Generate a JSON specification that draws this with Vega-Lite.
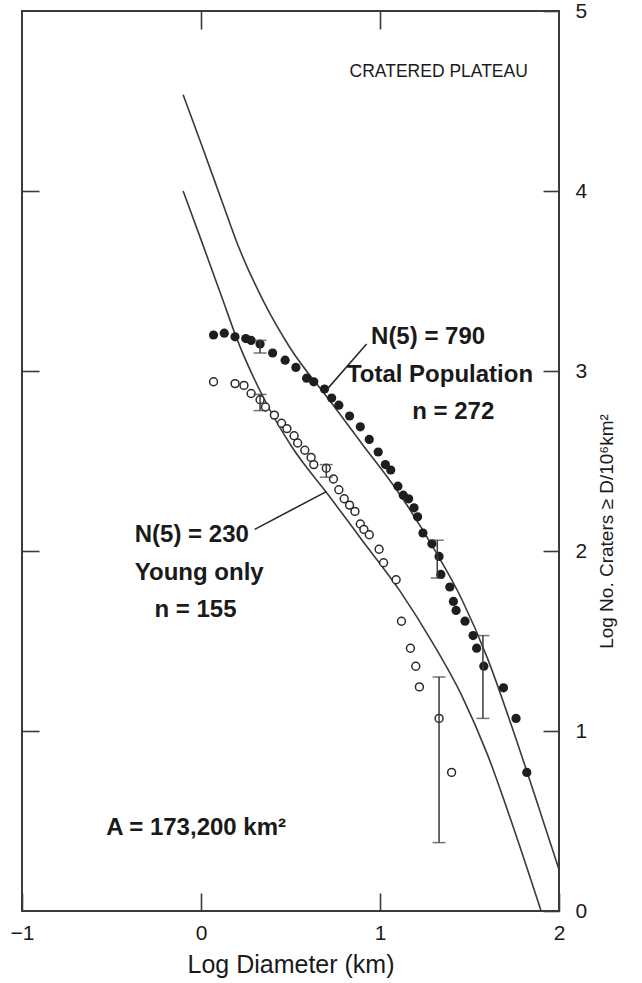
{
  "$schema": "https://vega.github.io/schema/vega-lite/v6.json",
  "width": 537,
  "height": 900,
  "autosize": "none",
  "padding": {"left": 22, "top": 11, "right": 83, "bottom": 72},
  "background": "white",
  "config": {
    "view": {"stroke": "#3a3a3a", "strokeWidth": 2},
    "axis": {
      "domain": false,
      "grid": false,
      "tickColor": "#3a3a3a",
      "tickWidth": 1.6,
      "labelFont": "Liberation Sans",
      "labelFontSize": 21,
      "labelColor": "#1a1a1a",
      "titleFont": "Liberation Sans",
      "titleFontWeight": "normal",
      "titleColor": "#1a1a1a"
    }
  },
  "datasets": {
    "curves": [
      {"curve": "upper", "x": -0.10, "y": 4.535},
      {"curve": "upper", "x": 0.0, "y": 4.265},
      {"curve": "upper", "x": 0.12, "y": 3.935},
      {"curve": "upper", "x": 0.2, "y": 3.715},
      {"curve": "upper", "x": 0.35, "y": 3.385},
      {"curve": "upper", "x": 0.5, "y": 3.125},
      {"curve": "upper", "x": 0.72, "y": 2.835},
      {"curve": "upper", "x": 0.9, "y": 2.595},
      {"curve": "upper", "x": 1.11, "y": 2.315},
      {"curve": "upper", "x": 1.3, "y": 2.015},
      {"curve": "upper", "x": 1.46, "y": 1.725},
      {"curve": "upper", "x": 1.6, "y": 1.405},
      {"curve": "upper", "x": 1.75, "y": 0.985},
      {"curve": "upper", "x": 1.9, "y": 0.535},
      {"curve": "upper", "x": 2.0, "y": 0.23},
      {"curve": "lower", "x": -0.10, "y": 4.0},
      {"curve": "lower", "x": 0.0, "y": 3.73},
      {"curve": "lower", "x": 0.12, "y": 3.40},
      {"curve": "lower", "x": 0.2, "y": 3.18},
      {"curve": "lower", "x": 0.35, "y": 2.85},
      {"curve": "lower", "x": 0.5, "y": 2.59},
      {"curve": "lower", "x": 0.72, "y": 2.30},
      {"curve": "lower", "x": 0.9, "y": 2.06},
      {"curve": "lower", "x": 1.11, "y": 1.78},
      {"curve": "lower", "x": 1.3, "y": 1.48},
      {"curve": "lower", "x": 1.46, "y": 1.19},
      {"curve": "lower", "x": 1.6, "y": 0.87},
      {"curve": "lower", "x": 1.75, "y": 0.45},
      {"curve": "lower", "x": 1.9, "y": 0.0}
    ],
    "total": [
      {"x": 0.07, "y": 3.20}, {"x": 0.13, "y": 3.21}, {"x": 0.19, "y": 3.19},
      {"x": 0.25, "y": 3.18}, {"x": 0.28, "y": 3.17}, {"x": 0.33, "y": 3.15},
      {"x": 0.40, "y": 3.10}, {"x": 0.47, "y": 3.06}, {"x": 0.53, "y": 3.02},
      {"x": 0.59, "y": 2.96}, {"x": 0.63, "y": 2.94}, {"x": 0.69, "y": 2.90},
      {"x": 0.73, "y": 2.85}, {"x": 0.77, "y": 2.81}, {"x": 0.83, "y": 2.75},
      {"x": 0.89, "y": 2.69}, {"x": 0.94, "y": 2.62}, {"x": 0.99, "y": 2.55},
      {"x": 1.03, "y": 2.48}, {"x": 1.06, "y": 2.45}, {"x": 1.10, "y": 2.36},
      {"x": 1.13, "y": 2.31}, {"x": 1.16, "y": 2.29}, {"x": 1.19, "y": 2.24},
      {"x": 1.21, "y": 2.19}, {"x": 1.24, "y": 2.10}, {"x": 1.29, "y": 2.04},
      {"x": 1.33, "y": 1.97}, {"x": 1.34, "y": 1.87}, {"x": 1.39, "y": 1.80},
      {"x": 1.41, "y": 1.72}, {"x": 1.425, "y": 1.67}, {"x": 1.475, "y": 1.61},
      {"x": 1.52, "y": 1.53}, {"x": 1.54, "y": 1.46}, {"x": 1.58, "y": 1.36},
      {"x": 1.69, "y": 1.24}, {"x": 1.76, "y": 1.07}, {"x": 1.82, "y": 0.77}
    ],
    "young": [
      {"x": 0.07, "y": 2.94}, {"x": 0.19, "y": 2.93}, {"x": 0.24, "y": 2.92},
      {"x": 0.28, "y": 2.875}, {"x": 0.33, "y": 2.84}, {"x": 0.36, "y": 2.80},
      {"x": 0.41, "y": 2.755}, {"x": 0.45, "y": 2.71}, {"x": 0.48, "y": 2.68},
      {"x": 0.52, "y": 2.64}, {"x": 0.54, "y": 2.60}, {"x": 0.58, "y": 2.56},
      {"x": 0.615, "y": 2.52}, {"x": 0.63, "y": 2.48}, {"x": 0.70, "y": 2.46},
      {"x": 0.74, "y": 2.40}, {"x": 0.77, "y": 2.34}, {"x": 0.80, "y": 2.29},
      {"x": 0.83, "y": 2.255}, {"x": 0.86, "y": 2.22}, {"x": 0.89, "y": 2.15},
      {"x": 0.91, "y": 2.12}, {"x": 0.94, "y": 2.09}, {"x": 0.995, "y": 2.01},
      {"x": 1.02, "y": 1.935}, {"x": 1.09, "y": 1.84}, {"x": 1.12, "y": 1.61},
      {"x": 1.17, "y": 1.46}, {"x": 1.20, "y": 1.36}, {"x": 1.22, "y": 1.245},
      {"x": 1.33, "y": 1.07}, {"x": 1.40, "y": 0.77}
    ],
    "errors": [
      {"group": "total", "x": 0.33, "lo": 3.10, "hi": 3.17},
      {"group": "young", "x": 0.33, "lo": 2.78, "hi": 2.87},
      {"group": "young", "x": 0.70, "lo": 2.41, "hi": 2.48},
      {"group": "total", "x": 1.32, "lo": 1.85, "hi": 2.06},
      {"group": "total", "x": 1.575, "lo": 1.07, "hi": 1.53},
      {"group": "young", "x": 1.33, "lo": 0.38, "hi": 1.30}
    ],
    "leaders": [
      {"label": "790", "x": 0.925, "y": 3.15, "x2": 0.71, "y2": 2.905},
      {"label": "230", "x": 0.30, "y": 2.12, "x2": 0.70, "y2": 2.33}
    ],
    "notes": [
      {"text": "N(5) = 790", "x": 0.95, "y": 3.19},
      {"text": "Total Population", "x": 0.815, "y": 2.98},
      {"text": "n = 272", "x": 1.18, "y": 2.77},
      {"text": "N(5) = 230", "x": -0.37, "y": 2.09},
      {"text": "Young only", "x": -0.37, "y": 1.88},
      {"text": "n = 155", "x": -0.26, "y": 1.67},
      {"text": "A = 173,200 km²", "x": -0.53, "y": 0.46}
    ],
    "heading": [
      {"text": "CRATERED PLATEAU", "x": 0.83, "y": 4.66}
    ]
  },
  "resolve": {"axis": {"x": "independent", "y": "independent"}},
  "layer": [
    {
      "data": {"name": "curves"},
      "mark": {"type": "line", "color": "#3a3a3a", "strokeWidth": 1.6, "clip": true, "interpolate": "monotone"},
      "encoding": {
        "x": {
          "field": "x", "type": "quantitative",
          "scale": {"domain": [-1, 2], "nice": false, "zero": false},
          "axis": {
            "orient": "bottom", "values": [-1, 0, 1, 2], "tickSize": -18,
            "labelPadding": 29, "labelFlush": false, "format": "d",
            "title": "Log Diameter (km)", "titleFontSize": 25, "titlePadding": 9
          }
        },
        "y": {
          "field": "y", "type": "quantitative",
          "scale": {"domain": [0, 5], "nice": false, "zero": false},
          "axis": {
            "orient": "right", "values": [0, 1, 2, 3, 4, 5], "tickSize": -16,
            "labelPadding": 32, "labelFlush": false, "format": "d",
            "title": "Log No. Craters ≥ D/10⁶km²", "titleFontSize": 19,
            "titleAngle": 270, "titleY": 520, "titlePadding": 30
          }
        },
        "detail": {"field": "curve"}
      }
    },
    {
      "data": {"name": "total"},
      "mark": {"type": "point", "filled": true, "color": "#1e1e1e", "size": 85, "opacity": 1},
      "encoding": {
        "x": {
          "field": "x", "type": "quantitative",
          "axis": {"orient": "top", "values": [0, 1], "tickSize": -18, "labels": false, "title": null}
        },
        "y": {
          "field": "y", "type": "quantitative",
          "axis": {"orient": "left", "values": [1, 2, 3, 4], "tickSize": -17, "labels": false, "title": null}
        }
      }
    },
    {
      "data": {"name": "young"},
      "mark": {"type": "point", "filled": false, "fill": "white", "stroke": "#2a2a2a", "strokeWidth": 1.5, "size": 62, "opacity": 1},
      "encoding": {
        "x": {"field": "x", "type": "quantitative", "axis": null},
        "y": {"field": "y", "type": "quantitative", "axis": null}
      }
    },
    {
      "data": {"name": "errors"},
      "mark": {"type": "rule", "color": "#3a3a3a", "strokeWidth": 1.5},
      "encoding": {
        "x": {"field": "x", "type": "quantitative", "axis": null},
        "y": {"field": "lo", "type": "quantitative", "axis": null},
        "y2": {"field": "hi"}
      }
    },
    {
      "data": {"name": "errors"},
      "transform": [{"fold": ["lo", "hi"], "as": ["end", "value"]}],
      "mark": {"type": "tick", "orient": "horizontal", "color": "#3a3a3a", "thickness": 1.5, "size": 13},
      "encoding": {
        "x": {"field": "x", "type": "quantitative", "axis": null},
        "y": {"field": "value", "type": "quantitative", "axis": null}
      }
    },
    {
      "data": {"name": "leaders"},
      "mark": {"type": "rule", "color": "#2a2a2a", "strokeWidth": 1.6},
      "encoding": {
        "x": {"field": "x", "type": "quantitative", "axis": null},
        "y": {"field": "y", "type": "quantitative", "axis": null},
        "x2": {"field": "x2"},
        "y2": {"field": "y2"}
      }
    },
    {
      "data": {"name": "notes"},
      "mark": {"type": "text", "align": "left", "baseline": "middle", "font": "Liberation Sans", "fontWeight": "bold", "fontSize": 24, "color": "#1a1a1a"},
      "encoding": {
        "x": {"field": "x", "type": "quantitative", "axis": null},
        "y": {"field": "y", "type": "quantitative", "axis": null},
        "text": {"field": "text"}
      }
    },
    {
      "data": {"name": "heading"},
      "mark": {"type": "text", "align": "left", "baseline": "middle", "font": "Liberation Sans", "fontSize": 17.5, "color": "#1a1a1a"},
      "encoding": {
        "x": {"field": "x", "type": "quantitative", "axis": null},
        "y": {"field": "y", "type": "quantitative", "axis": null},
        "text": {"field": "text"}
      }
    }
  ]
}
